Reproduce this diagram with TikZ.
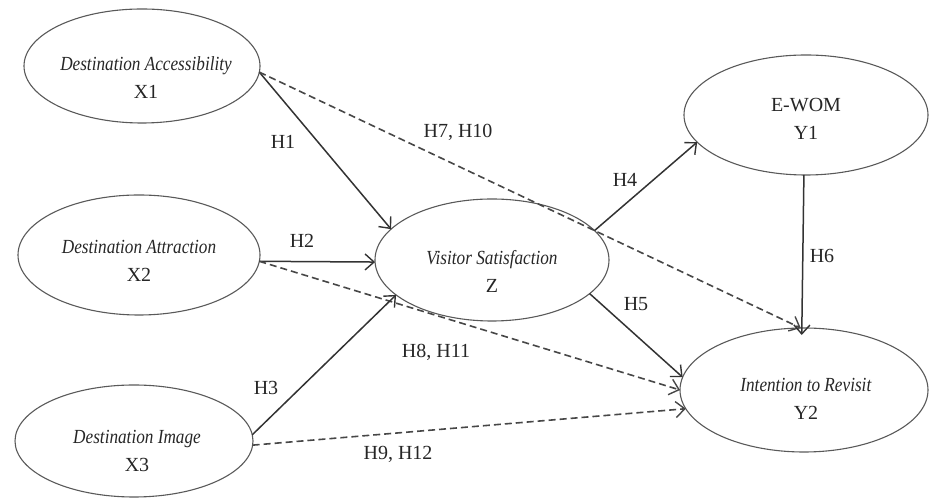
\documentclass[tikz,border=0pt]{standalone}
\usepackage{fontspec}
\setmainfont{Liberation Serif}[ItalicFeatures={FakeStretch=0.86}]
\usetikzlibrary{shapes.geometric,arrows.meta}
\begin{document}
\begin{tikzpicture}[x=1pt,y=1pt,
  construct/.style={draw=black!65,line width=1.1pt,ellipse,inner sep=0pt,outer sep=0pt},
  ctext/.style={align=center,inner sep=0pt,font=\fontsize{20}{28}\selectfont,text=black!85},
  hlabel/.style={inner sep=0pt,font=\fontsize{20}{24}\selectfont,text=black!85},
  solidarrow/.style={draw=black!80,line width=1.5pt,-{Straight Barb[length=9pt,width=16pt,line width=1.4pt]}},
  dasharrow/.style={draw=black!72,line width=1.6pt,dash pattern=on 7pt off 4pt,-{Straight Barb[length=9pt,width=16pt,line width=1.4pt]}}
]
\useasboundingbox (0,0) rectangle (929,500);
% ellipses
\node[construct,minimum width=236pt,minimum height=114pt] (X1) at (142,434) {};
\node[construct,minimum width=242pt,minimum height=120pt] (X2) at (139,245) {};
\node[construct,minimum width=238pt,minimum height=112pt] (X3) at (134,59) {};
\node[construct,minimum width=234pt,minimum height=122pt] (Z) at (492,240) {};
\node[construct,minimum width=244pt,minimum height=120pt] (Y1) at (806,385) {};
\node[construct,minimum width=248pt,minimum height=124pt] (Y2) at (804,110) {};
% texts
\node[ctext] (X1t) at (146,422) {\textit{Destination Accessibility}\\X1};
\node[ctext] (X2t) at (139,239) {\textit{Destination Attraction}\\X2};
\node[ctext] (X3t) at (137,49) {\textit{Destination Image}\\X3};
\node[ctext] (Zt) at (492,229) {\textit{Visitor Satisfaction}\\Z};
\node[ctext] (Y1t) at (806,381) {E-WOM\\Y1};
\node[ctext] (Y2t) at (806,101) {\textit{Intention to Revisit}\\Y2};
% connectors
\draw[solidarrow] (X1.-3) -- (Z.163);
\draw[dasharrow] (X1.-3) -- (Y2.93);
\draw[solidarrow] (X2.-3) -- (Z.181);
\draw[dasharrow] (X2.-3) -- (Y2.west);
\draw[solidarrow] (X3.3) -- (Z.200);
\draw[dasharrow] (X3.-2) -- (Y2.189);
\draw[solidarrow] (Z.16) -- (Y1.194);
\draw[solidarrow] (Z.-19) -- (Y2.174);
\draw[solidarrow,shorten >=-7pt] (Y1.-92) -- (Y2.92);
% labels
\node[hlabel] (h1) at (283,358) {H1};
\node[hlabel] (h710) at (458,368) {H7, H10};
\node[hlabel] (h2) at (302,259) {H2};
\node[hlabel] (h811) at (436,148) {H8, H11};
\node[hlabel] (h3) at (266,112) {H3};
\node[hlabel] (h912) at (398,46) {H9, H12};
\node[hlabel] (h4) at (625,320) {H4};
\node[hlabel] (h5) at (636,196) {H5};
\node[hlabel] (h6) at (822,244) {H6};
\end{tikzpicture}
\end{document}
